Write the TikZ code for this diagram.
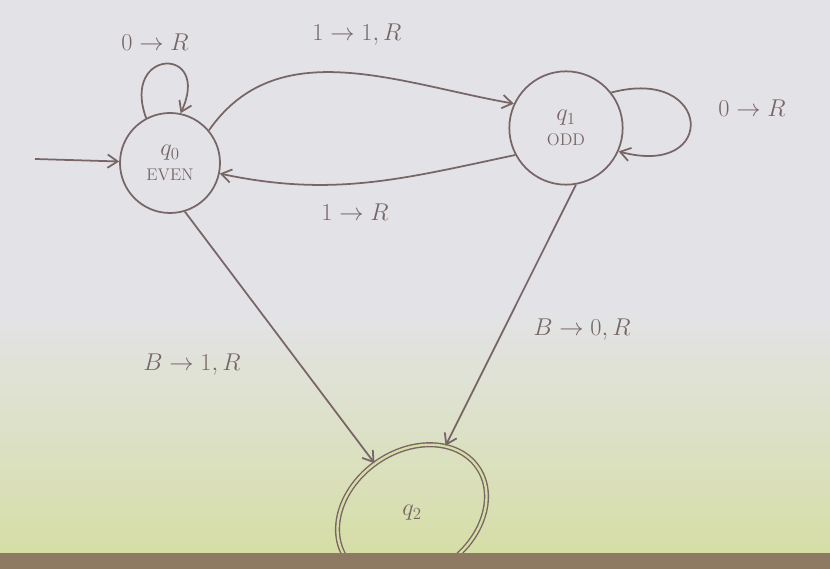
\documentclass[tikz,border=0pt]{standalone}
\usepackage{amsmath,amssymb}
\usepackage{xcolor}
\usetikzlibrary{arrows.meta,positioning,shapes.geometric}
\definecolor{inkc}{HTML}{786666}
\definecolor{paperc}{HTML}{E3E3E7}
\definecolor{limec}{HTML}{D6DEA6}
\definecolor{deskc}{HTML}{8E7A62}
\tikzset{
  ar/.style={-{Straight Barb[length=3mm,width=4mm]},line width=1.5pt,inkc},
  st/.style={circle,draw=inkc,line width=1.5pt,align=center,text=inkc,inner sep=2pt,font=\huge},
  lbl/.style={text=inkc,font=\huge}
}

\begin{document}
\begin{tikzpicture}[x=0.03cm,y=0.03cm]
\useasboundingbox (0,0) rectangle (830,569);
\fill[paperc] (0,0) rectangle (830,569);
\shade[top color=paperc,bottom color=limec] (0,16) rectangle (830,260);
% states
\node[st,minimum size=3cm] (q0) at (170,406) {$q_0$\\[-4pt]{\Large EVEN}};
\node[st,minimum size=3.4cm] (q1) at (566,441) {$q_1$\\[-4pt]{\Large ODD}};
\node[ellipse,draw=inkc,line width=1.2pt,double=limec,double distance=2pt,
  minimum width=4.8cm,minimum height=3.7cm,rotate=35] (q2) at (412,56) {};
\node[lbl] (q2name) at (q2) {$q_2$};
% transitions
\coordinate (init) at (35,410);
\draw[ar] (init) -- (q0);
\draw[ar] (q0.118) to[out=110,in=65,looseness=5.5] (q0.78);
\draw[ar] (q0.40) to[out=55,in=170] (q1.155);
\draw[ar] (q1.208) to[out=192,in=-12] (q0.-12);
\draw[ar] (q1.38) to[out=15,in=-15,looseness=4.5] (q1.-24);
\draw[ar] (q0.-73) -- (q2);
\draw[ar] (q1.-80) -- (q2);
% labels
\node[lbl] (l00) at (155,527) {$0\rightarrow R$};
\node[lbl] (l01) at (357,534) {$1\rightarrow 1,R$};
\node[lbl] (l10) at (355,357) {$1\rightarrow R$};
\node[lbl] (l11) at (752,461) {$0\rightarrow R$};
\node[lbl] (l02) at (192,204) {$B\rightarrow 1,R$};
\node[lbl] (l12) at (582,239) {$B\rightarrow 0,R$};
% desk edge
\fill[deskc] (0,0) rectangle (830,16);
\end{tikzpicture}
\end{document}
